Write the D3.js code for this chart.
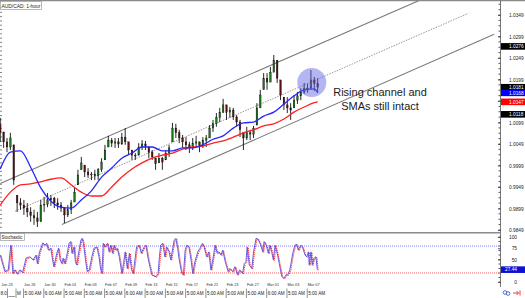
<!DOCTYPE html>
<html lang="en">
<head>
<meta charset="UTF-8">
<title>AUD/CAD 1-hour</title>
<script src="https://cdnjs.cloudflare.com/ajax/libs/d3/7.8.5/d3.min.js"></script>
<style>
  body { margin: 0; background: #fff; }
  svg { display: block; font-family: "Liberation Sans", Arial, sans-serif; }
  .axis path { display: none; }
  .axis line { stroke: #555; }
  .axis text { font-size: 4.8px; fill: #222; }
</style>
</head>
<body>
<script>
const width = 525, height = 298;

// 8-hour candles, candle i sits at hour 8*i counted from the chart start (Jan 23)
const firstOpen = 1.0093;
const candleHigh = [1.0110,1.0077,1.0063,1.0075,1.0047,0.9930,0.9923,0.9919,0.9912,0.9902,
  0.9896,0.9891,0.9919,0.9926,0.9935,0.9930,0.9926,0.9923,0.9914,0.9902,
  0.9907,0.9919,0.9947,0.9989,1.0019,1.0000,0.9993,0.9984,0.9989,0.9993,
  1.0016,1.0047,1.0068,1.0063,1.0063,1.0063,1.0075,1.0086,1.0054,1.0035,
  1.0028,1.0051,1.0058,1.0056,1.0042,1.0035,1.0016,1.0028,1.0019,1.0035,
  1.0047,1.0098,1.0096,1.0082,1.0070,1.0065,1.0054,1.0063,1.0068,1.0054,
  1.0065,1.0070,1.0093,1.0105,1.0121,1.0133,1.0154,1.0140,1.0135,1.0133,
  1.0116,1.0105,1.0075,1.0089,1.0082,1.0091,1.0144,1.0175,1.0214,1.0214,
  1.0228,1.0256,1.0244,1.0198,1.0158,1.0158,1.0144,1.0163,1.0170,1.0179,
  1.0191,1.0189,1.0221,1.0205,1.0202];
const candleLow = [1.0054,1.0040,1.0030,1.0035,0.9954,0.9891,0.9896,0.9884,0.9879,0.9868,
  0.9861,0.9856,0.9868,0.9891,0.9902,0.9905,0.9900,0.9896,0.9891,0.9865,
  0.9879,0.9886,0.9914,0.9954,0.9989,0.9972,0.9970,0.9965,0.9965,0.9965,
  0.9984,1.0012,1.0042,1.0042,1.0040,1.0040,1.0047,1.0047,1.0023,1.0012,
  1.0012,1.0023,1.0035,1.0035,1.0016,1.0012,0.9989,1.0005,0.9989,1.0012,
  1.0019,1.0054,1.0063,1.0051,1.0040,1.0035,1.0028,1.0035,1.0042,1.0030,
  1.0040,1.0042,1.0063,1.0077,1.0089,1.0100,1.0121,1.0105,1.0110,1.0105,
  1.0089,1.0065,1.0035,1.0058,1.0058,1.0063,1.0093,1.0133,1.0175,1.0175,
  1.0193,1.0216,1.0191,1.0151,1.0128,1.0121,1.0105,1.0133,1.0142,1.0151,
  1.0165,1.0168,1.0175,1.0172,1.0170];
const candleClose = [1.0077,1.0054,1.0042,1.0063,0.9965,0.9912,0.9907,0.9900,0.9891,0.9882,
  0.9877,0.9868,0.9907,0.9909,0.9919,0.9923,0.9912,0.9907,0.9900,0.9884,
  0.9896,0.9912,0.9937,0.9977,1.0005,0.9984,0.9977,0.9979,0.9975,0.9989,
  1.0007,1.0035,1.0058,1.0051,1.0054,1.0049,1.0065,1.0054,1.0035,1.0023,
  1.0021,1.0042,1.0049,1.0044,1.0030,1.0019,1.0003,1.0016,1.0007,1.0028,
  1.0040,1.0086,1.0075,1.0063,1.0054,1.0047,1.0040,1.0051,1.0054,1.0044,
  1.0058,1.0063,1.0086,1.0096,1.0110,1.0123,1.0140,1.0123,1.0128,1.0112,
  1.0100,1.0082,1.0063,1.0075,1.0072,1.0086,1.0133,1.0163,1.0202,1.0193,
  1.0216,1.0244,1.0202,1.0163,1.0140,1.0133,1.0128,1.0151,1.0161,1.0170,
  1.0179,1.0179,1.0198,1.0189,1.0181];

// moving averages, sampled once a day
const maHours = [0,24,48,72,96,120,144,168,192,216,240,264,288,312,336,360,384,408,432,456,
  480,504,528,552,576,600,624,648,672,696,720,744,752];
const smaFast = [0.9991,1.0030,1.0033,0.9995,0.9947,0.9916,0.9902,0.9900,0.9919,0.9940,
  0.9972,0.9993,1.0016,1.0028,1.0042,1.0042,1.0033,1.0033,1.0040,1.0040,
  1.0047,1.0060,1.0068,1.0086,1.0098,1.0100,1.0114,1.0123,1.0142,1.0161,
  1.0175,1.0177,1.0168];
const smaSlow = [0.9907,0.9937,0.9954,0.9956,0.9961,0.9967,0.9970,0.9954,0.9937,0.9928,
  0.9928,0.9949,0.9972,0.9991,1.0005,1.0016,1.0023,1.0028,1.0037,1.0042,
  1.0044,1.0051,1.0056,1.0065,1.0075,1.0082,1.0091,1.0096,1.0107,1.0123,
  1.0135,1.0145,1.0147];

// channel lines [hour, price]
const channelUpper = [[0, 0.99572], [995, 1.03839]];
const channelMid = [[35, 0.98925], [1109, 1.03530]];
const channelLower = [[146, 0.98616], [1170, 1.03041]];

// stochastic %K [hour, value]
const stochK = [[0,60],[3,49],[11,23],[19,27],[25,82],[30,19],[35,27],[40,18],[47,27],[53,21],
  [61,53],[70,56],[78,49],[85,60],[88,41],[93,67],[101,87],[106,82],[110,86],[114,71],
  [120,75],[124,49],[127,34],[134,64],[138,75],[142,49],[146,41],[149,53],[153,41],[157,56],
  [163,86],[167,90],[170,64],[175,78],[178,45],[181,38],[186,67],[191,93],[194,97],[197,86],
  [202,49],[206,23],[211,27],[217,56],[222,75],[229,78],[234,56],[238,27],[241,19],[244,86],
  [248,78],[254,86],[258,67],[262,82],[266,64],[270,82],[273,71],[277,75],[282,56],[288,19],
  [292,41],[296,67],[301,30],[306,64],[311,27],[315,19],[323,78],[329,82],[334,64],[341,78],
  [345,82],[351,49],[359,16],[369,12],[374,19],[377,56],[380,82],[385,86],[390,56],[394,78],
  [400,67],[404,49],[412,93],[416,97],[421,71],[424,49],[430,19],[434,16],[438,71],[442,82],
  [447,78],[452,49],[456,19],[461,45],[468,67],[473,75],[479,86],[483,78],[489,56],[494,67],
  [499,27],[502,41],[509,82],[514,64],[518,67],[523,60],[527,71],[533,45],[540,23],[544,30],
  [551,23],[556,34],[562,16],[567,27],[574,19],[578,41],[582,45],[585,78],[590,38],[596,30],
  [600,67],[606,97],[611,95],[617,82],[622,67],[625,90],[630,82],[635,64],[639,82],[643,67],
  [647,49],[651,82],[656,64],[661,41],[667,12],[672,8],[677,16],[681,16],[686,27],[693,64],
  [698,82],[702,84],[706,71],[712,82],[716,78],[722,60],[726,56],[730,67],[732,38],[736,67],
  [739,38],[743,53],[748,56],[751,27.44]];

const priceTicks = [1.0349,1.0299,1.0249,1.0199,1.0149,1.0099,1.0049,0.9999,0.9949,0.9899,0.9849];
const priceMarkers = [[1.0276,"#000"],[1.0181,"#000"],[1.0168,"#0000ff"],[1.0147,"#ff0000"],[1.0118,"#000"]];
const stochTicks = [100,75,50,0];
const stochLevels = [[80,"#5b5bff"],[20,"#ff3b3b"]];
const stochLast = 27.44;

const dateLabels = ["Jan 23","Jan 26","Jan 30","Feb 01","Feb 03","Feb 07","Feb 09","Feb 13",
  "Feb 15","Feb 17","Feb 21","Feb 23","Feb 27","Mar 01","Mar 03","Mar 07"];
const dateHours = [0,54,102,150,198,246,294,342,390,438,486,534,582,630,678,726];
const timeLabels = ["5:00 AM","6:00 AM","5:00 AM","5:00 AM","5:00 AM","6:00 AM","5:00 AM",
  "5:00 AM","5:00 AM","5:00 AM","5:00 AM","5:00 AM","6:00 AM","5:00 AM","5:00 AM"];

const x = d3.scaleLinear().domain([-0.6, 1183.9]).range([0, 500]);
const yP = d3.scaleLinear().domain([0.98443, 1.03816]).range([232, 1]);
const yS = d3.scaleLinear().domain([0, 100]).range([282, 237]);

const svg = d3.select("body").append("svg")
  .attr("width", width).attr("height", height);

svg.append("defs").append("clipPath").attr("id", "pclip")
  .append("rect").attr("x", 0).attr("y", 1).attr("width", 500).attr("height", 231);

// frame
svg.append("line").attr("x1", 0).attr("x2", width).attr("y1", 0.6).attr("y2", 0.6)
  .attr("stroke", "#8a8a8a").attr("stroke-width", 1.4);
svg.append("line").attr("x1", 0).attr("x2", 500).attr("y1", 232.8).attr("y2", 232.8)
  .attr("stroke", "#8a8a8a").attr("stroke-width", 1.4);
svg.append("line").attr("x1", 500.5).attr("x2", 500.5).attr("y1", 0).attr("y2", 287)
  .attr("stroke", "#777").attr("stroke-width", 1);

// left edge ticks
svg.append("g").selectAll("line").data(d3.range(8, 231, 4.3)).join("line")
  .attr("x1", 0).attr("x2", 2).attr("y1", d => d).attr("y2", d => d)
  .attr("stroke", "#666").attr("stroke-width", 0.8);

const plot = svg.append("g").attr("clip-path", "url(#pclip)");

// channel
const chan = d3.line().x(d => x(d[0])).y(d => yP(d[1]));
[[channelUpper, null], [channelMid, "1.5,1.2"], [channelLower, null]].forEach(([pts, dash]) => {
  plot.append("path").attr("d", chan(pts)).attr("fill", "none")
    .attr("stroke", dash ? "#8c8c8c" : "#7a7a7a").attr("stroke-width", dash ? 0.9 : 1.1)
    .attr("stroke-dasharray", dash);
});

// candles
const candles = candleClose.map((c, i) => {
  const prev = i ? candleClose[i - 1] : firstOpen;
  const open = Math.max(candleLow[i], Math.min(candleHigh[i], prev));
  return { h: i * 8, open, close: c, high: candleHigh[i], low: candleLow[i] };
});
const cg = plot.append("g");
cg.selectAll("line").data(candles).join("line")
  .attr("x1", d => x(d.h)).attr("x2", d => x(d.h))
  .attr("y1", d => yP(d.high)).attr("y2", d => yP(d.low))
  .attr("stroke", "#111").attr("stroke-width", 0.9);
cg.selectAll("rect").data(candles).join("rect")
  .attr("x", d => x(d.h) - 0.8).attr("width", 1.6)
  .attr("y", d => yP(Math.max(d.open, d.close)))
  .attr("height", d => Math.max(0.8, Math.abs(yP(d.open) - yP(d.close))))
  .attr("fill", d => d.close >= d.open ? "#17761a" : "#5a1010")
  .attr("stroke", "#111").attr("stroke-width", 0.35);

// SMAs
const maLine = d3.line().x((d, i) => x(maHours[i])).y(d => yP(d)).curve(d3.curveMonotoneX);
plot.append("path").attr("d", maLine(smaSlow)).attr("fill", "none")
  .attr("stroke", "#ff1f1f").attr("stroke-width", 1.3);
plot.append("path").attr("d", maLine(smaFast)).attr("fill", "none")
  .attr("stroke", "#2525ff").attr("stroke-width", 1.3);

// highlight circle
plot.append("circle").attr("cx", x(738)).attr("cy", yP(1.0192)).attr("r", 14.5)
  .attr("fill", "rgb(100,100,228)").attr("fill-opacity", 0.48);

// annotation
const note = svg.append("text").attr("text-anchor", "middle")
  .attr("font-size", "11px").attr("fill", "#1a1a1a");
note.append("tspan").attr("x", 380).attr("y", 96).text("Rising channel and");
note.append("tspan").attr("x", 380).attr("y", 110).text("SMAs still intact");

// price axis
svg.append("g").attr("class", "axis")
  .selectAll("line").data(d3.range(0.9849, 1.0381, 0.00125)).join("line")
  .attr("x1", 498.5).attr("x2", 500.5).attr("y1", d => yP(d)).attr("y2", d => yP(d));
svg.append("g").attr("class", "axis").attr("transform", "translate(498,0)")
  .call(d3.axisRight(yP).tickValues(priceTicks).tickFormat(d3.format(".4f"))
    .tickSize(3).tickPadding(8));

const mk = svg.append("g").selectAll("g").data(priceMarkers).join("g")
  .attr("transform", d => `translate(501,${yP(d[0])})`);
mk.append("rect").attr("x", 0).attr("y", -3.3).attr("width", 24).attr("height", 6.6)
  .attr("fill", d => d[1]);
mk.append("text").attr("x", 8).attr("y", 1.7).attr("font-size", "4.8px").attr("fill", "#fff")
  .text(d => d3.format(".4f")(d[0]));

// title
svg.append("rect").attr("x", 0.5).attr("y", 1.5).attr("width", 41).attr("height", 8)
  .attr("fill", "#fff").attr("stroke", "#9a9a9a").attr("stroke-width", 0.7);
svg.append("text").attr("x", 1.5).attr("y", 7.6).attr("font-size", "4.9px").attr("fill", "#222")
  .text("AUD/CAD: 1-hour");

// stochastic panel
stochLevels.forEach(([v, c]) => {
  svg.append("line").attr("x1", 0).attr("x2", 500).attr("y1", yS(v)).attr("y2", yS(v))
    .attr("stroke", c).attr("stroke-width", 0.8).attr("stroke-dasharray", "1,1");
});
const sLine = d3.line().x(d => x(d[0])).y(d => yS(d[1]));
svg.append("path").attr("d", sLine(stochK)).attr("fill", "none")
  .attr("transform", "translate(0.9,0.6)")
  .attr("stroke", "#ff3030").attr("stroke-width", 1).attr("stroke-dasharray", "1.2,0.8");
svg.append("path").attr("d", sLine(stochK)).attr("fill", "none")
  .attr("stroke", "#5a4ce0").attr("stroke-width", 1).attr("stroke-opacity", 0.9);

svg.append("g").attr("class", "axis")
  .selectAll("line").data(d3.range(0, 101, 10)).join("line")
  .attr("x1", 498.5).attr("x2", 500.5).attr("y1", d => yS(d)).attr("y2", d => yS(d));
svg.append("g").attr("class", "axis").attr("transform", "translate(498,0)")
  .call(d3.axisRight(yS).tickValues(stochTicks).tickSize(3).tickPadding(8))
  .selectAll("text").attr("text-anchor", "end").attr("dx", 8);

svg.append("rect").attr("x", 501).attr("y", yS(stochLast) - 3.3).attr("width", 24).attr("height", 6.6)
  .attr("fill", "#1010d0");
svg.append("text").attr("x", 517).attr("y", yS(stochLast) + 1.7).attr("text-anchor", "end")
  .attr("font-size", "4.8px").attr("fill", "#fff").text(stochLast.toFixed(2));

svg.append("rect").attr("x", 0.5).attr("y", 233.6).attr("width", 24).attr("height", 7)
  .attr("fill", "#fff").attr("stroke", "#9a9a9a").attr("stroke-width", 0.7);
svg.append("text").attr("x", 1.4).attr("y", 239.2).attr("font-size", "4.5px").attr("fill", "#222")
  .text("Stochastic");

// time scale
svg.append("g").selectAll("text").data(dateLabels).join("text")
  .attr("x", (d, i) => x(dateHours[i]) + 1).attr("y", 286)
  .attr("font-size", "3.8px").attr("fill", "#333").text(d => d);

const tg = svg.append("g");
tg.selectAll("line").data(dateHours.slice(1)).join("line")
  .attr("x1", d => x(d) + 0.5).attr("x2", d => x(d) + 0.5).attr("y1", 288.5).attr("y2", 298)
  .attr("stroke", "#777").attr("stroke-width", 0.8);
tg.selectAll("text").data(timeLabels).join("text")
  .attr("x", (d, i) => x(dateHours[i + 1]) + 1.5).attr("y", 295.2)
  .attr("font-size", "4.6px").attr("fill", "#222").text(d => d);
[7.5, 16].forEach(v => tg.append("line").attr("x1", v).attr("x2", v).attr("y1", 288.5).attr("y2", 298)
  .attr("stroke", "#777").attr("stroke-width", 0.8));
tg.append("line").attr("x1", 8.5).attr("x2", 15).attr("y1", 296.5).attr("y2", 296.5)
  .attr("stroke", "#555").attr("stroke-width", 0.6);
tg.append("text").attr("x", 0.5).attr("y", 295.2).attr("font-size", "4.6px").attr("fill", "#222").text("8:0");
tg.append("text").attr("x", 17).attr("y", 295.2).attr("font-size", "4.6px").attr("fill", "#222").text("M");

// corner icons
svg.append("circle").attr("cx", 505).attr("cy", 292.5).attr("r", 1.8)
  .attr("fill", "none").attr("stroke", "#4d6fd6").attr("stroke-width", 1);
svg.append("circle").attr("cx", 508).attr("cy", 293.5).attr("r", 1.8)
  .attr("fill", "none").attr("stroke", "#4d6fd6").attr("stroke-width", 1);
svg.append("path").attr("d", "M513,293 L518.5,293 M516.5,291 L518.5,293 L516.5,295 M520,290.5 L520,295.5")
  .attr("fill", "none").attr("stroke", "#e03030").attr("stroke-width", 0.9);
</script>
</body>
</html>
